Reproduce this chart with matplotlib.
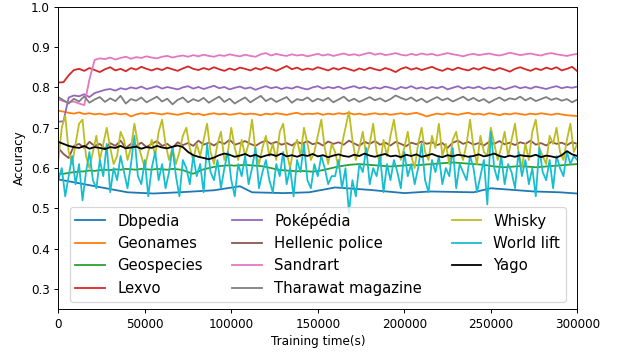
import matplotlib
matplotlib.use('Agg')
import matplotlib.pyplot as plt
import numpy as np

# training time grids (s) for the sampled series
steps = np.arange(0, 300001, 3000)
fine_steps = np.arange(0, 300001, 2000)

# Dbpedia is drawn with few sample points
dbpedia_t = [0, 20000, 40000, 55000, 70000, 90000, 105000, 112000, 130000, 145000,
             160000, 180000, 200000, 215000, 240000, 250000, 275000, 290000, 300000]
dbpedia = [0.572, 0.556, 0.540, 0.537, 0.540, 0.545, 0.555, 0.540, 0.538, 0.540,
           0.552, 0.546, 0.538, 0.542, 0.540, 0.550, 0.542, 0.540, 0.537]

geonames = [0.742, 0.740, 0.737, 0.735, 0.738, 0.734, 0.736, 0.733, 0.735, 0.732,
            0.734, 0.736, 0.733, 0.735, 0.728, 0.733, 0.736, 0.734, 0.737, 0.735,
            0.733, 0.736, 0.734, 0.732, 0.735, 0.737, 0.733, 0.735, 0.731, 0.734,
            0.736, 0.733, 0.735, 0.732, 0.734, 0.736, 0.733, 0.735, 0.734, 0.731,
            0.735, 0.733, 0.736, 0.734, 0.732, 0.735, 0.737, 0.733, 0.735, 0.734,
            0.736, 0.732, 0.735, 0.733, 0.736, 0.734, 0.737, 0.733, 0.735, 0.732,
            0.734, 0.736, 0.733, 0.735, 0.732, 0.734, 0.736, 0.733, 0.735, 0.737,
            0.733, 0.728, 0.732, 0.735, 0.733, 0.736, 0.734, 0.732, 0.735, 0.737,
            0.733, 0.735, 0.732, 0.736, 0.734, 0.731, 0.735, 0.733, 0.736, 0.734,
            0.732, 0.735, 0.733, 0.736, 0.734, 0.732, 0.735, 0.733, 0.731, 0.730, 0.729]

geospecies = [0.585, 0.586, 0.588, 0.590, 0.591, 0.592, 0.594, 0.593, 0.595, 0.596, 0.595,
              0.597, 0.596, 0.598, 0.597, 0.596, 0.598, 0.597, 0.596, 0.598, 0.597,
              0.596, 0.598, 0.597, 0.595, 0.590, 0.586, 0.592, 0.597, 0.600, 0.603,
              0.605, 0.606, 0.607, 0.606, 0.607, 0.608, 0.607, 0.606, 0.605, 0.603,
              0.600, 0.597, 0.595, 0.594, 0.593, 0.592, 0.593, 0.592, 0.591, 0.593,
              0.595, 0.598, 0.601, 0.604, 0.606, 0.608, 0.609, 0.610, 0.609, 0.608,
              0.607, 0.606, 0.605, 0.604, 0.605, 0.606, 0.607, 0.608, 0.607, 0.608,
              0.609, 0.610, 0.611, 0.612, 0.613, 0.614, 0.613, 0.612, 0.611, 0.610,
              0.609, 0.608, 0.606, 0.604, 0.603, 0.602, 0.603, 0.604, 0.605, 0.604,
              0.603, 0.602, 0.603, 0.604, 0.605, 0.606, 0.607, 0.608, 0.609, 0.610]

lexvo = [0.812, 0.813, 0.830, 0.843, 0.846, 0.841, 0.848, 0.843, 0.838, 0.845,
         0.850, 0.842, 0.846, 0.840, 0.848, 0.844, 0.851, 0.846, 0.842, 0.847,
         0.843, 0.849, 0.845, 0.841, 0.847, 0.852, 0.846, 0.843, 0.848, 0.844,
         0.850, 0.845, 0.841, 0.847, 0.843, 0.849, 0.846, 0.842, 0.848, 0.844,
         0.850, 0.846, 0.841, 0.847, 0.853, 0.845, 0.849, 0.843, 0.847, 0.844,
         0.850, 0.846, 0.842, 0.848, 0.844, 0.849, 0.845, 0.841, 0.847, 0.843,
         0.849, 0.845, 0.842, 0.848, 0.844, 0.838, 0.846, 0.850, 0.844, 0.848,
         0.843, 0.847, 0.851, 0.845, 0.841, 0.847, 0.843, 0.849, 0.845, 0.842,
         0.848, 0.844, 0.850, 0.846, 0.842, 0.848, 0.844, 0.839, 0.846, 0.850,
         0.845, 0.841, 0.847, 0.843, 0.849, 0.845, 0.850, 0.842, 0.846, 0.851, 0.840]

pokepedia = [0.715, 0.716, 0.775, 0.780, 0.778, 0.783, 0.776, 0.786, 0.790, 0.794,
             0.796, 0.792, 0.798, 0.795, 0.800, 0.797, 0.802, 0.796, 0.799, 0.803,
             0.797, 0.801, 0.798, 0.795, 0.800, 0.803, 0.797, 0.801, 0.796, 0.800,
             0.804, 0.798, 0.801, 0.795, 0.799, 0.802, 0.797, 0.800, 0.794, 0.799,
             0.803, 0.798, 0.801, 0.796, 0.800, 0.797, 0.802, 0.798, 0.795, 0.800,
             0.803, 0.797, 0.801, 0.798, 0.802, 0.796, 0.800, 0.803, 0.798, 0.801,
             0.796, 0.800, 0.797, 0.802, 0.799, 0.795, 0.801, 0.798, 0.803, 0.797,
             0.800, 0.796, 0.801, 0.798, 0.802, 0.795, 0.799, 0.803, 0.797, 0.801,
             0.798, 0.802, 0.796, 0.800, 0.797, 0.801, 0.795, 0.799, 0.803, 0.798,
             0.801, 0.797, 0.802, 0.799, 0.796, 0.800, 0.803, 0.798, 0.801, 0.799, 0.802]

hellenic = [0.650, 0.635, 0.625, 0.655, 0.660, 0.650, 0.665, 0.655, 0.660, 0.648,
            0.662, 0.655, 0.668, 0.650, 0.660, 0.655, 0.663, 0.652, 0.660, 0.667,
            0.655, 0.660, 0.650, 0.664, 0.657, 0.662, 0.655, 0.668, 0.658, 0.663,
            0.656, 0.665, 0.660, 0.670, 0.658, 0.662, 0.667, 0.660, 0.655, 0.663,
            0.668, 0.660, 0.665, 0.658, 0.662, 0.656, 0.665, 0.660, 0.667, 0.659,
            0.663, 0.656, 0.666, 0.660, 0.664, 0.658, 0.668, 0.661, 0.655, 0.665,
            0.660, 0.667, 0.658, 0.663, 0.656, 0.665, 0.660, 0.654, 0.663, 0.659,
            0.666, 0.660, 0.664, 0.657, 0.662, 0.650, 0.663, 0.668, 0.660, 0.665,
            0.658, 0.662, 0.656, 0.665, 0.660, 0.667, 0.659, 0.663, 0.657, 0.664,
            0.660, 0.668, 0.658, 0.662, 0.656, 0.665, 0.660, 0.663, 0.657, 0.664, 0.660]

sandrart = [0.770, 0.766, 0.763, 0.765, 0.760, 0.756, 0.820, 0.868, 0.872, 0.870,
            0.874, 0.869, 0.873, 0.876, 0.871, 0.875, 0.873, 0.877, 0.874, 0.872,
            0.876, 0.878, 0.874, 0.877, 0.879, 0.876, 0.880, 0.877, 0.881, 0.878,
            0.876, 0.880, 0.878, 0.882, 0.879, 0.877, 0.881, 0.878, 0.876, 0.882,
            0.885, 0.879, 0.883, 0.880, 0.878, 0.882, 0.879, 0.881, 0.877, 0.880,
            0.883, 0.879, 0.882, 0.878, 0.881, 0.884, 0.880, 0.882, 0.879, 0.883,
            0.886, 0.881, 0.884, 0.880, 0.882, 0.885, 0.881, 0.879, 0.883, 0.880,
            0.884, 0.881, 0.883, 0.879, 0.882, 0.885, 0.882, 0.880, 0.877, 0.881,
            0.883, 0.880, 0.882, 0.884, 0.881, 0.879, 0.882, 0.886, 0.883, 0.880,
            0.882, 0.884, 0.881, 0.879, 0.883, 0.885, 0.882, 0.880, 0.878, 0.881, 0.883]

tharawat = [0.776, 0.768, 0.760, 0.772, 0.765, 0.778, 0.762, 0.770, 0.776, 0.764,
            0.773, 0.766, 0.779, 0.760, 0.771, 0.767, 0.775, 0.763, 0.770, 0.777,
            0.765, 0.772, 0.758, 0.769, 0.775, 0.763, 0.771, 0.766, 0.774, 0.762,
            0.770, 0.777, 0.764, 0.772, 0.760, 0.768, 0.775, 0.763, 0.771, 0.779,
            0.766, 0.773, 0.764, 0.770, 0.776, 0.762, 0.771, 0.768, 0.775, 0.765,
            0.772, 0.767, 0.774, 0.763, 0.770, 0.777, 0.766, 0.772, 0.764, 0.770,
            0.776, 0.768, 0.773, 0.765, 0.771, 0.780, 0.774, 0.769, 0.775, 0.766,
            0.772, 0.763, 0.770, 0.776, 0.768, 0.773, 0.765, 0.771, 0.777, 0.768,
            0.774, 0.766, 0.771, 0.762, 0.769, 0.775, 0.767, 0.773, 0.770, 0.777,
            0.768, 0.774, 0.766, 0.771, 0.776, 0.769, 0.773, 0.767, 0.771, 0.763, 0.770]

# the two noisiest series are sampled every 2000 s
whisky = [0.62, 0.70, 0.73, 0.64, 0.61, 0.66, 0.71, 0.72, 0.63, 0.60,
          0.64, 0.68, 0.62, 0.66, 0.70, 0.65, 0.61, 0.63, 0.69, 0.67,
          0.62, 0.65, 0.71, 0.66, 0.63, 0.60, 0.64, 0.67, 0.63, 0.69,
          0.72, 0.66, 0.62, 0.65, 0.61, 0.64, 0.68, 0.70, 0.65, 0.62,
          0.66, 0.63, 0.67, 0.71, 0.64, 0.61, 0.66, 0.69, 0.62, 0.64,
          0.70, 0.65, 0.62, 0.67, 0.63, 0.66, 0.72, 0.64, 0.61, 0.65,
          0.68, 0.63, 0.66, 0.62, 0.69, 0.71, 0.64, 0.60, 0.65, 0.67,
          0.63, 0.70, 0.66, 0.62, 0.64, 0.68, 0.72, 0.65, 0.61, 0.66,
          0.64, 0.60, 0.66, 0.70, 0.74, 0.67, 0.62, 0.65, 0.69, 0.63,
          0.66, 0.71, 0.64, 0.61, 0.67, 0.63, 0.68, 0.72, 0.66, 0.62,
          0.65, 0.69, 0.63, 0.60, 0.66, 0.70, 0.64, 0.62, 0.68, 0.65,
          0.71, 0.63, 0.66, 0.61, 0.67, 0.69, 0.64, 0.62, 0.66, 0.72,
          0.65, 0.61, 0.68, 0.64, 0.63, 0.70, 0.66, 0.62, 0.65, 0.69,
          0.63, 0.67, 0.71, 0.64, 0.60, 0.66, 0.62, 0.69, 0.72, 0.65,
          0.63, 0.61, 0.68, 0.66, 0.70, 0.64, 0.62, 0.67, 0.71, 0.64, 0.66]

world_lift = [0.57, 0.60, 0.53, 0.58, 0.63, 0.56, 0.61, 0.52, 0.59, 0.64,
              0.57, 0.55, 0.62, 0.58, 0.66, 0.54, 0.60, 0.57, 0.63, 0.59,
              0.55, 0.61, 0.68, 0.58, 0.56, 0.62, 0.53, 0.60, 0.64, 0.57,
              0.61, 0.55, 0.59, 0.65, 0.58, 0.53, 0.62, 0.60, 0.56, 0.63,
              0.58, 0.61, 0.54, 0.66, 0.59, 0.57, 0.62, 0.55, 0.60, 0.64,
              0.57, 0.53, 0.61, 0.58, 0.63, 0.56, 0.60, 0.65, 0.55, 0.59,
              0.62, 0.57, 0.54, 0.61, 0.58, 0.64, 0.56, 0.60, 0.53, 0.62,
              0.59, 0.66, 0.57, 0.55, 0.61, 0.58, 0.63, 0.60, 0.56, 0.58,
              0.58, 0.62, 0.55, 0.60, 0.49, 0.57, 0.53, 0.61, 0.59, 0.65,
              0.56, 0.60, 0.58, 0.63, 0.54, 0.61, 0.57, 0.62, 0.59, 0.55,
              0.64, 0.58, 0.61, 0.56, 0.60, 0.66, 0.57, 0.54, 0.62, 0.59,
              0.63, 0.56, 0.60, 0.58, 0.65, 0.55, 0.61, 0.59, 0.57, 0.63,
              0.60, 0.54, 0.58, 0.62, 0.51, 0.69, 0.60, 0.57, 0.63, 0.56,
              0.61, 0.59, 0.55, 0.64, 0.58, 0.62, 0.56, 0.60, 0.53, 0.65,
              0.59, 0.57, 0.62, 0.55, 0.63, 0.60, 0.58, 0.64, 0.61, 0.63, 0.62]

yago = [0.665, 0.660, 0.655, 0.652, 0.650, 0.655, 0.648, 0.652, 0.650, 0.647,
        0.652, 0.650, 0.655, 0.649, 0.651, 0.653, 0.648, 0.652, 0.650, 0.655,
        0.651, 0.649, 0.653, 0.656, 0.652, 0.640, 0.632, 0.628, 0.625, 0.622,
        0.626, 0.632, 0.636, 0.633, 0.628, 0.631, 0.635, 0.629, 0.633, 0.627,
        0.631, 0.634, 0.630, 0.636, 0.629, 0.632, 0.628, 0.633, 0.630, 0.635,
        0.629, 0.632, 0.627, 0.631, 0.634, 0.630, 0.628, 0.633, 0.630, 0.636,
        0.631, 0.628, 0.632, 0.635, 0.629, 0.631, 0.627, 0.633, 0.630, 0.634,
        0.628, 0.631, 0.635, 0.630, 0.627, 0.632, 0.629, 0.633, 0.631, 0.628,
        0.630, 0.634, 0.629, 0.632, 0.636, 0.630, 0.627, 0.631, 0.628, 0.632,
        0.630, 0.629, 0.633, 0.627, 0.631, 0.629, 0.626, 0.632, 0.642, 0.634, 0.630]

dpi = 86.4
fig = plt.figure(figsize=(623 / dpi, 352 / dpi), dpi=dpi)
ax = fig.add_axes([58.3 / 623, 1 - 309.3 / 352, 519 / 623, 302.6 / 352])

ax.plot(dbpedia_t, dbpedia, color='tab:blue', label='Dbpedia')
ax.plot(steps, geonames, color='tab:orange', label='Geonames')
ax.plot(steps, geospecies, color='tab:green', label='Geospecies')
ax.plot(steps, lexvo, color='tab:red', label='Lexvo')
ax.plot(steps, pokepedia, color='tab:purple', label='Poképédia')
ax.plot(steps, hellenic, color='tab:brown', label='Hellenic police')
ax.plot(steps, sandrart, color='tab:pink', label='Sandrart')
ax.plot(steps, tharawat, color='tab:gray', label='Tharawat magazine')
ax.plot(fine_steps, whisky, color='tab:olive', label='Whisky')
ax.plot(fine_steps, world_lift, color='tab:cyan', label='World lift')
ax.plot(steps, yago, color='black', label='Yago')

ax.set_xlim(0, 300000)
ax.set_ylim(0.25, 1.0)
ax.set_xlabel('Training time(s)')
ax.set_ylabel('Accuracy')
ax.legend(loc='lower center', ncol=3, fontsize=12.4)

fig.savefig('out.png', dpi=dpi)
